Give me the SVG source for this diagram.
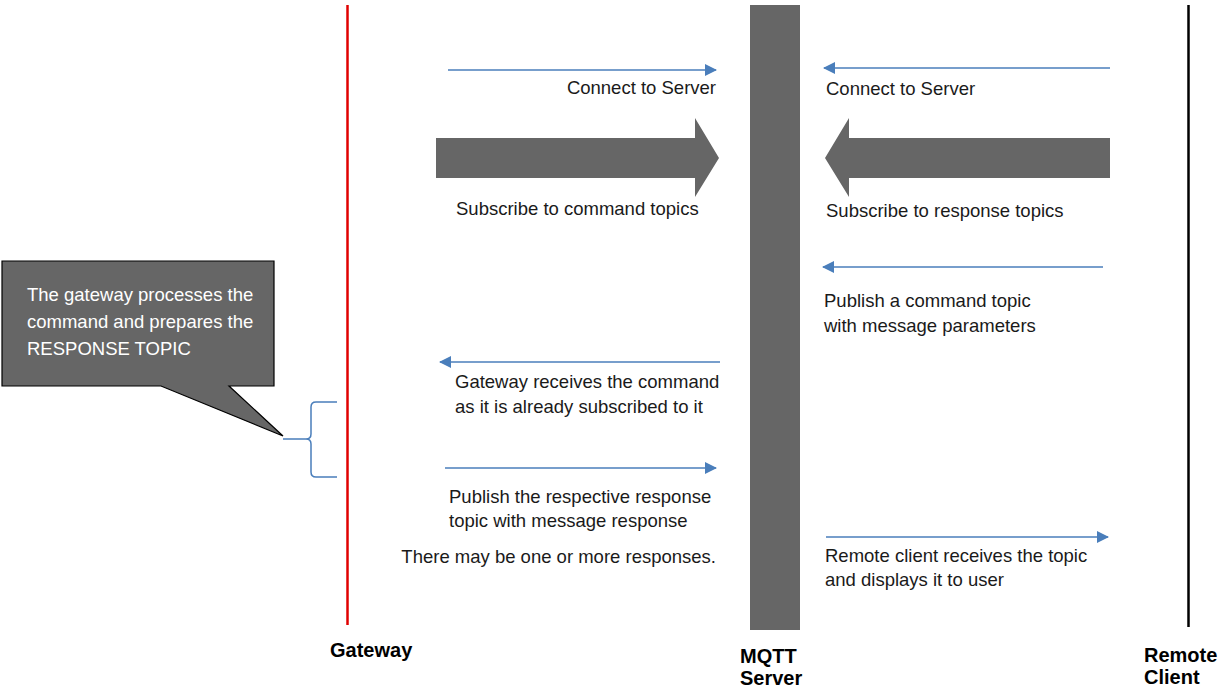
<svg xmlns="http://www.w3.org/2000/svg" width="1225" height="688" viewBox="0 0 1225 688">
<defs>
<style>
text{font-family:"Liberation Sans",Arial,sans-serif;font-size:18.5px;fill:#1a1a1a}
.lbl{font-weight:bold;font-size:20px;fill:#000}
.msg{stroke:#4a7ebb;stroke-width:1.5;fill:none}
.big{fill:#666666}
.ct{fill:#ffffff}
</style>
<marker id="ah" viewBox="0 0 12 12" refX="11" refY="6" markerWidth="12" markerHeight="12" markerUnits="userSpaceOnUse" orient="auto">
<path d="M0,0 L12,6 L0,12 Z" fill="#4a7ebb"/>
</marker>
</defs>
<rect width="1225" height="688" fill="#ffffff"/>
<g id="gateway">
<line x1="347.5" y1="5" x2="347.5" y2="625" stroke="#e00000" stroke-width="2.5"/>
<text class="lbl" x="330" y="657">Gateway</text>
</g>
<g id="mqtt-server">
<rect x="750" y="5" width="50" height="625" fill="#666666"/>
<text class="lbl" x="740" y="663">MQTT</text>
<text class="lbl" x="740" y="685">Server</text>
</g>
<g id="remote-client">
<line x1="1188.5" y1="5" x2="1188.5" y2="627" stroke="#000" stroke-width="2.5"/>
<text class="lbl" x="1144" y="662">Remote</text>
<text class="lbl" x="1144" y="684">Client</text>
</g>
<g id="callout">
<path d="M2,261 H274 V386 H229 L283,436 L161,386 H2 Z" fill="#666666" stroke="#000" stroke-width="1.2"/>
<text class="ct" x="27" y="301">The gateway processes the</text>
<text class="ct" x="27" y="328">command and prepares the</text>
<text class="ct" x="27" y="355">RESPONSE TOPIC</text>
</g>
<g id="brace">
<path d="M337,402 H316 Q311,402 311,407 V434 Q311,439 306,439 H283 M306,439 Q311,439 311,444 V472 Q311,477 316,477 H337" class="msg"/>
</g>
<g id="connectors">
<line class="msg" x1="448" y1="70" x2="716" y2="70" marker-end="url(#ah)"/>
<line class="msg" x1="1110" y1="68" x2="824" y2="68" marker-end="url(#ah)"/>
<path class="big" d="M436,138 H695 V118 L719,158 L695,197 V178 H436 Z"/>
<path class="big" d="M1110,138 H849 V118 L825,158 L849,197 V178 H1110 Z"/>
<line class="msg" x1="1103" y1="267" x2="823" y2="267" marker-end="url(#ah)"/>
<line class="msg" x1="720" y1="362" x2="440" y2="362" marker-end="url(#ah)"/>
<line class="msg" x1="445" y1="468" x2="716" y2="468" marker-end="url(#ah)"/>
<line class="msg" x1="826" y1="537" x2="1108" y2="537" marker-end="url(#ah)"/>
</g>
<g id="labels">
<text x="716" y="94" text-anchor="end">Connect to Server</text>
<text x="826" y="95">Connect to Server</text>
<text x="456" y="215">Subscribe to command topics</text>
<text x="826" y="217">Subscribe to response topics</text>
<text x="824" y="307">Publish a command topic</text>
<text x="824" y="332">with message parameters</text>
<text x="455" y="388">Gateway receives the command</text>
<text x="455" y="413">as it is already subscribed to it</text>
<text x="449" y="503">Publish the respective response</text>
<text x="449" y="527">topic with message response</text>
<text x="716" y="563" text-anchor="end">There may be one or more responses.</text>
<text x="825" y="562">Remote client receives the topic</text>
<text x="825" y="586">and displays it to user</text>
</g>
</svg>
